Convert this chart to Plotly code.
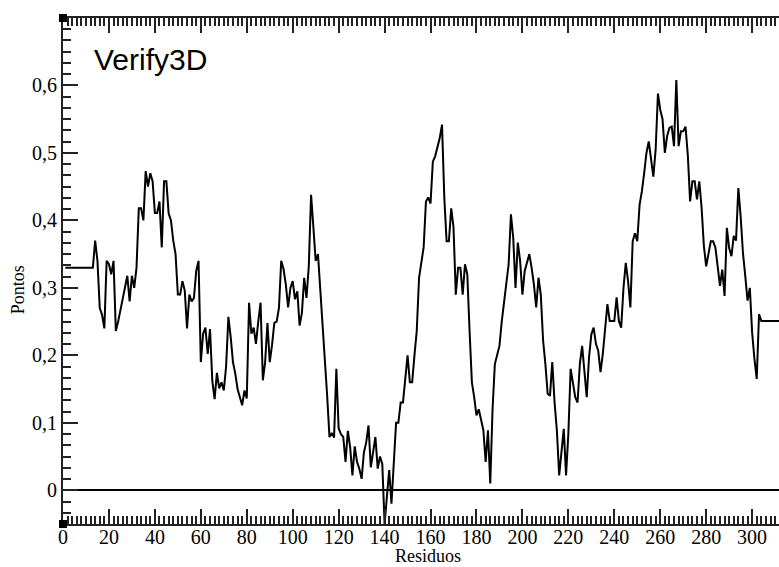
import plotly.graph_objects as go

# Residue numbers and Verify3D scores
residues = list(range(1, 316))

scores_1_60 = [0.33] * 13 + [
    0.37, 0.34, 0.27, 0.26, 0.24, 0.34, 0.335, 0.32, 0.34, 0.236,
    0.25, 0.268, 0.28, 0.30, 0.318, 0.28, 0.318, 0.30, 0.33, 0.418,
    0.418, 0.40, 0.473, 0.45, 0.47, 0.458, 0.411, 0.411, 0.428, 0.36,
    0.458, 0.458, 0.41, 0.40, 0.37, 0.35, 0.29, 0.29, 0.31, 0.296,
    0.24, 0.29, 0.28, 0.285, 0.325, 0.34, 0.19,
]
scores_61_120 = [
    0.232, 0.241, 0.202, 0.239, 0.162, 0.135, 0.174, 0.151, 0.16, 0.148,
    0.183, 0.257, 0.227, 0.19, 0.173, 0.15, 0.138, 0.126, 0.148, 0.136,
    0.278, 0.232, 0.241, 0.217, 0.25, 0.278, 0.163, 0.19, 0.248, 0.19,
    0.215, 0.248, 0.25, 0.27, 0.34, 0.328, 0.305, 0.271, 0.30, 0.31,
    0.283, 0.295, 0.244, 0.263, 0.315, 0.285, 0.332, 0.438, 0.39, 0.34,
    0.35, 0.30, 0.255, 0.20, 0.14, 0.079, 0.085, 0.078, 0.18, 0.092,
]
scores_121_180 = [
    0.083, 0.079, 0.042, 0.088, 0.064, 0.022, 0.065, 0.042, 0.032, 0.017,
    0.056, 0.071, 0.096, 0.034, 0.059, 0.079, 0.032, 0.05, 0.039, -0.05,
    -0.01, 0.03, -0.02, 0.045, 0.10, 0.10, 0.13, 0.13, 0.16, 0.20,
    0.16, 0.16, 0.20, 0.236, 0.315, 0.34, 0.36, 0.428, 0.434, 0.425,
    0.487, 0.495, 0.507, 0.522, 0.542, 0.433, 0.369, 0.369, 0.418, 0.39,
    0.29, 0.33, 0.33, 0.29, 0.335, 0.32, 0.236, 0.16, 0.138, 0.111,
]
scores_181_240 = [
    0.12, 0.103, 0.089, 0.042, 0.089, 0.01, 0.12, 0.187, 0.20, 0.214,
    0.25, 0.28, 0.305, 0.335, 0.409, 0.374, 0.30, 0.367, 0.34, 0.29,
    0.325, 0.337, 0.35, 0.33, 0.305, 0.271, 0.315, 0.29, 0.222, 0.187,
    0.143, 0.14, 0.19, 0.13, 0.089, 0.022, 0.06, 0.091, 0.022, 0.084,
    0.18, 0.16, 0.138, 0.13, 0.187, 0.214, 0.172, 0.138, 0.197, 0.231,
    0.241, 0.217, 0.207, 0.175, 0.202, 0.246, 0.276, 0.251, 0.251, 0.251,
]
scores_241_315 = [
    0.286, 0.251, 0.241, 0.30, 0.337, 0.31, 0.271, 0.369, 0.381, 0.369,
    0.423, 0.443, 0.47, 0.50, 0.517, 0.49, 0.465, 0.505, 0.588, 0.564,
    0.55, 0.50, 0.525, 0.537, 0.539, 0.51, 0.608, 0.51, 0.532, 0.532,
    0.539, 0.497, 0.428, 0.458, 0.458, 0.431, 0.458, 0.419, 0.362, 0.332,
    0.352, 0.369, 0.369, 0.36, 0.332, 0.303, 0.327, 0.288, 0.389, 0.359,
    0.347, 0.377, 0.37, 0.448, 0.406, 0.352, 0.318, 0.281, 0.30, 0.234,
    0.195, 0.165, 0.261,
] + [0.251] * 12

scores = scores_1_60 + scores_61_120 + scores_121_180 + scores_181_240 + scores_241_315

x_ticks = list(range(0, 320, 20))
y_ticks = [0, 0.1, 0.2, 0.3, 0.4, 0.5, 0.6]
y_tick_labels = ["0", "0,1", "0,2", "0,3", "0,4", "0,5", "0,6"]

title_text = "Verify3D"
x_title = "Residuos"
y_title = "Pontos"

X_RANGE = [0, 311.7]
Y_RANGE = [-0.05, 0.7]
AX = "#222222"
SERIF = "Liberation Serif"

fig = go.Figure()
fig.add_trace(go.Scatter(
    x=residues[:len(scores)], y=scores, mode="lines",
    line=dict(color="black", width=2), showlegend=False, hoverinfo="skip",
))

fig.update_layout(
    width=779, height=567,
    margin=dict(l=63, r=0, t=18, b=43),
    paper_bgcolor="white", plot_bgcolor="white",
    separators=", ",
    font=dict(family=SERIF, size=20, color="black"),
    xaxis=dict(
        range=X_RANGE, tickvals=x_ticks, ticks="inside", ticklen=15, tickwidth=1.5,
        tickcolor=AX, showline=True, linecolor=AX, linewidth=2, mirror="ticks",
        showgrid=False, zeroline=False, ticklabelstandoff=-6,
        minor=dict(dtick=2, tick0=0, ticks="inside", ticklen=8, tickwidth=1.5,
                   tickcolor=AX, showgrid=False),
        tickfont=dict(family=SERIF, size=20, color="black"),
    ),
    yaxis=dict(
        range=Y_RANGE, tickvals=y_ticks, ticktext=y_tick_labels, ticks="inside",
        ticklen=15, tickwidth=1.5, tickcolor=AX, showline=True, linecolor=AX,
        linewidth=2, mirror=False, showgrid=False,
        zeroline=True, zerolinecolor="black", zerolinewidth=2,
        minor=dict(dtick=0.1 / 6, tick0=0, ticks="inside", ticklen=8, tickwidth=1.5,
                   tickcolor=AX, showgrid=False),
        tickfont=dict(family=SERIF, size=20, color="black"),
    ),
    yaxis2=dict(
        range=Y_RANGE, overlaying="y", side="right", tickvals=y_ticks,
        ticks="inside", ticklen=10, tickwidth=1.5, tickcolor=AX,
        showticklabels=False, showline=False, showgrid=False, zeroline=False,
        minor=dict(dtick=0.1 / 6, tick0=0, ticks="inside", ticklen=3, tickwidth=1.5,
                   tickcolor=AX, showgrid=False),
    ),
    annotations=[
        dict(text=title_text, xref="paper", yref="paper", x=0.0405, y=0.918,
             xanchor="left", yanchor="middle", showarrow=False,
             font=dict(family="Liberation Sans", size=30, color="black")),
        dict(text=x_title, xref="paper", yref="paper", x=0.51, y=-0.064,
             xanchor="center", yanchor="middle", showarrow=False,
             font=dict(family=SERIF, size=18, color="black")),
        dict(text=y_title, xref="paper", yref="paper", x=-0.0628, y=0.462,
             xanchor="center", yanchor="middle", showarrow=False, textangle=-90,
             font=dict(family=SERIF, size=18, color="black")),
    ],
    shapes=[
        dict(type="rect", xref="paper", yref="paper", xsizemode="pixel",
             ysizemode="pixel", xanchor=0, yanchor=1, x0=-4, x1=4, y0=-4, y1=4,
             fillcolor="black", line=dict(width=0)),
        dict(type="rect", xref="paper", yref="paper", xsizemode="pixel",
             ysizemode="pixel", xanchor=0, yanchor=0, x0=-4, x1=4, y0=-4, y1=4,
             fillcolor="black", line=dict(width=0)),
    ],
)

fig.write_html("out.html")
